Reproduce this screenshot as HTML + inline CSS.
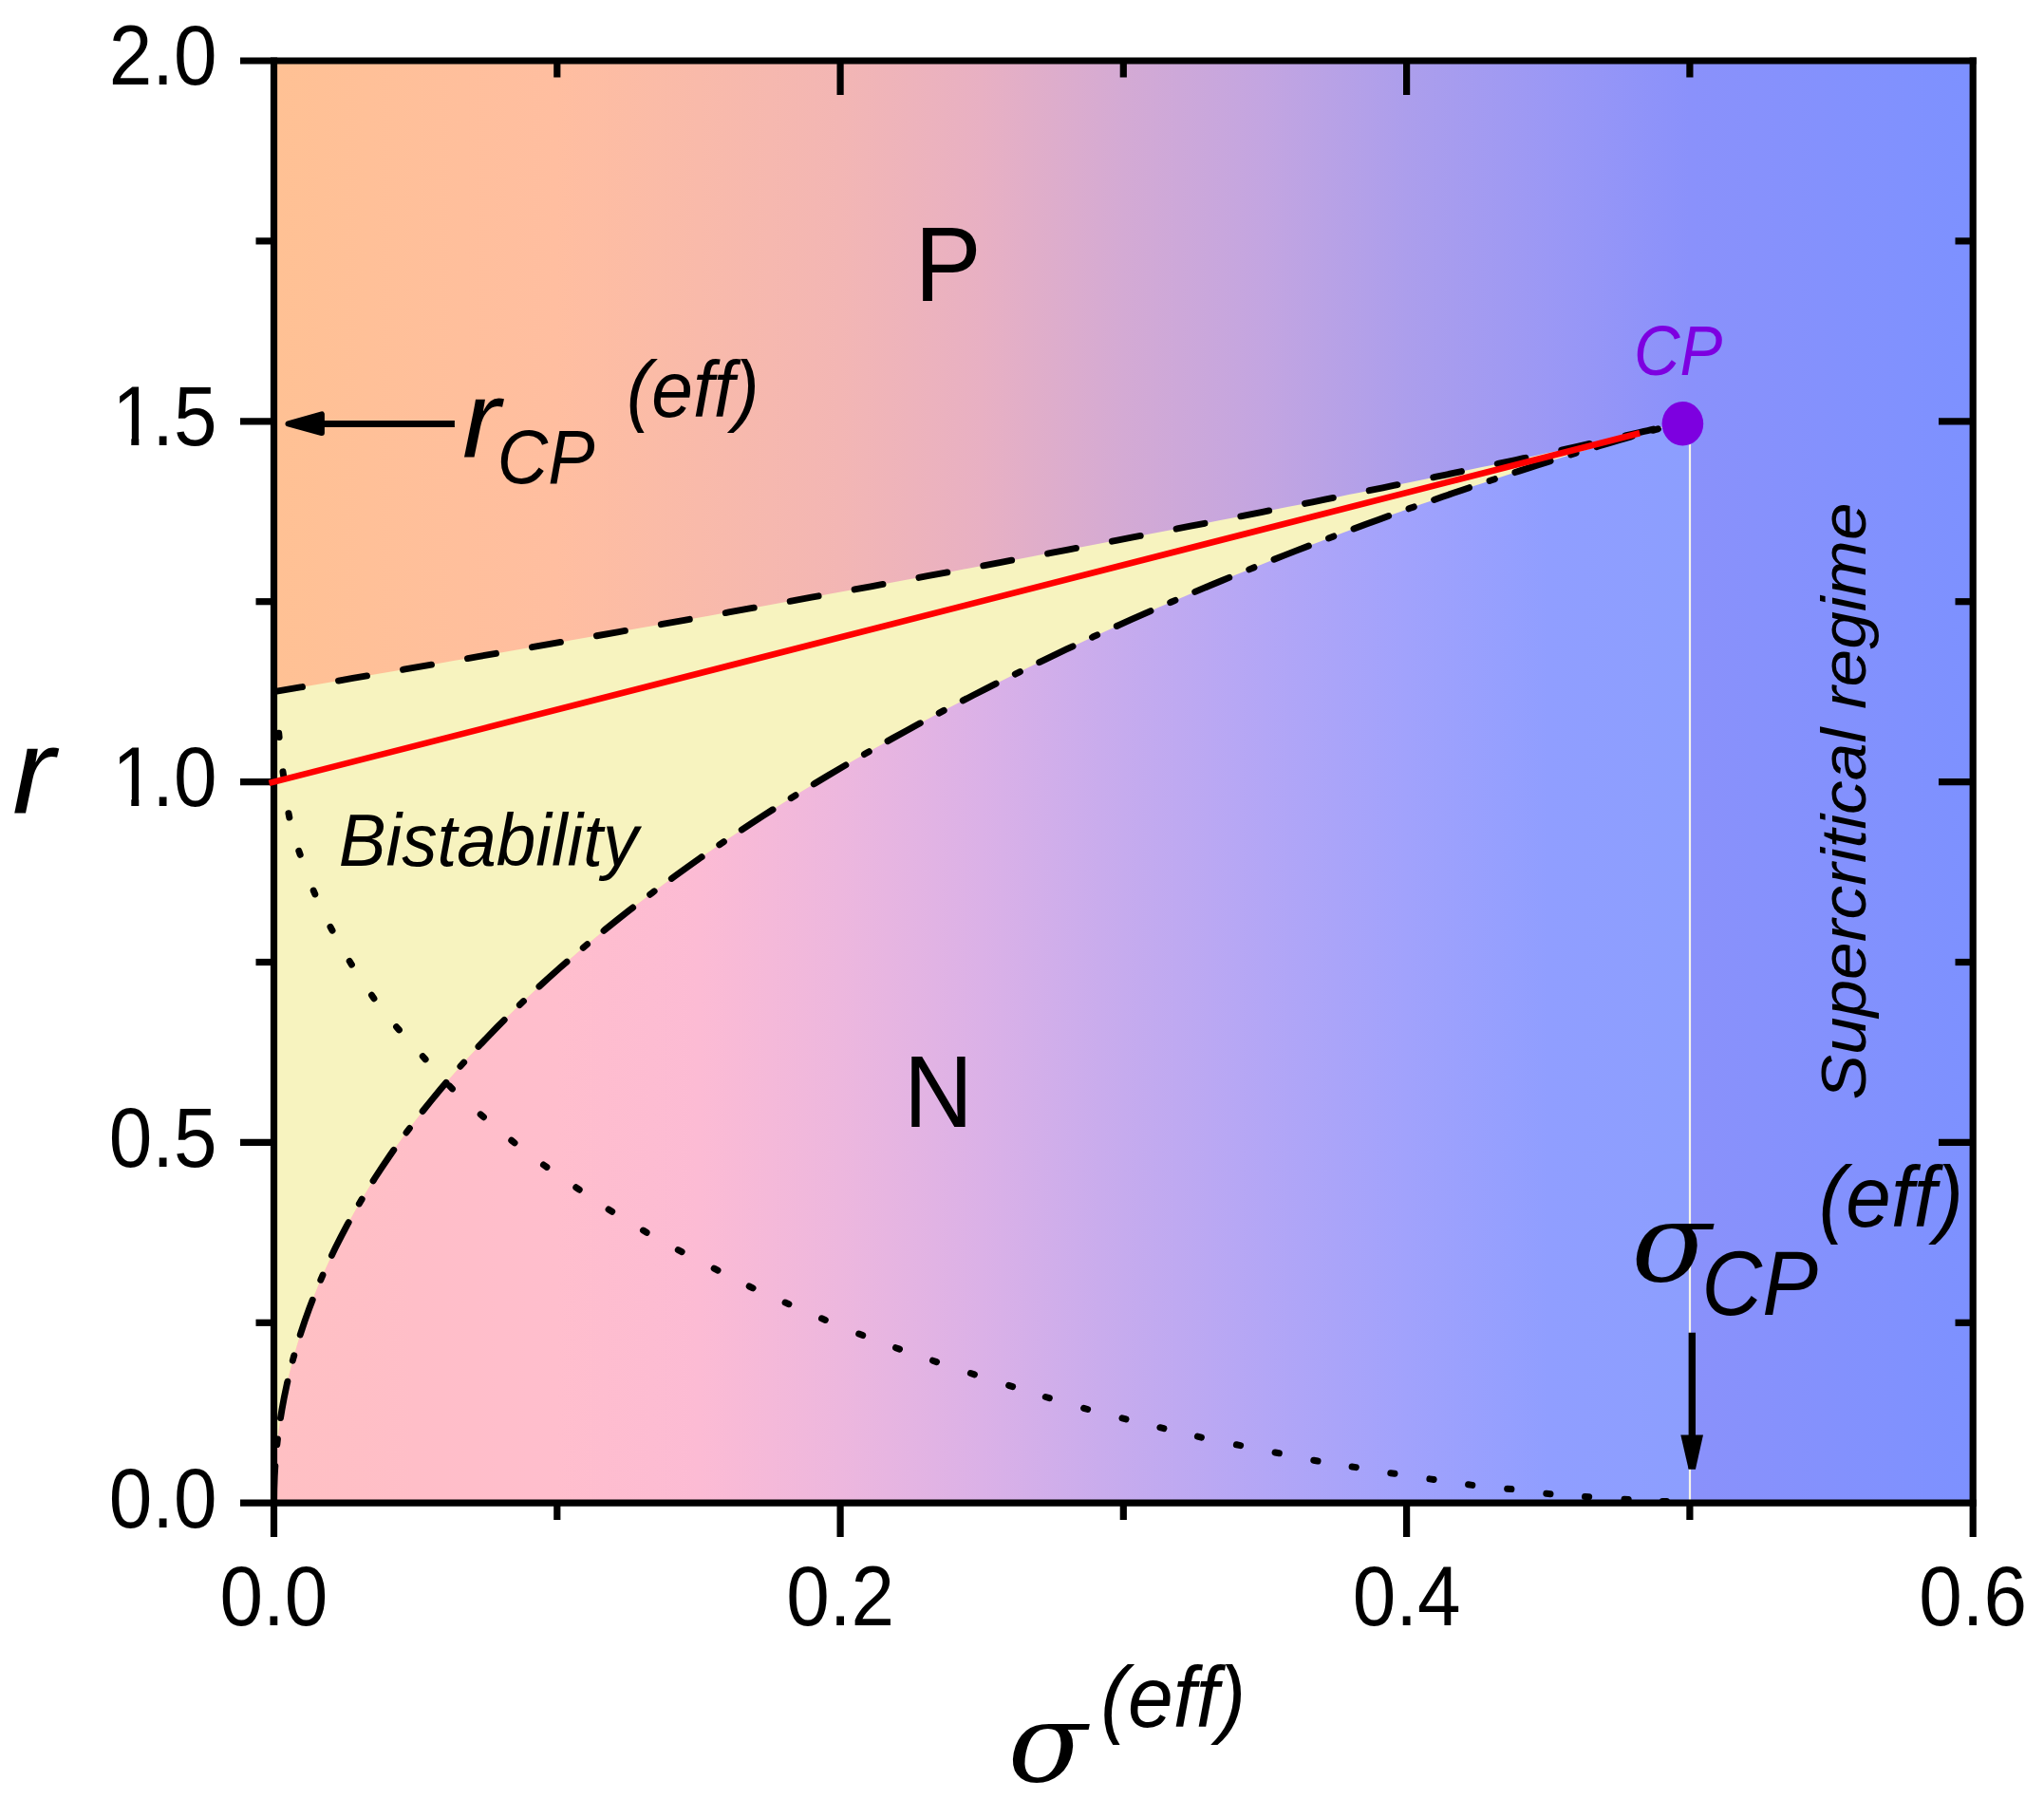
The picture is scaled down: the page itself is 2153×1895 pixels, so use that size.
<!DOCTYPE html><html><head><meta charset="utf-8"><title>Phase diagram</title><style>html,body{margin:0;padding:0;background:#fff}svg{display:block}text{font-family:"Liberation Sans",sans-serif;fill:#000}.it{font-style:italic}.gr{font-family:"DejaVu Serif","Liberation Serif",serif;font-style:italic}</style></head><body>
<svg width="2153" height="1895" viewBox="0 0 2153 1895">
<defs><linearGradient id="gp" gradientUnits="userSpaceOnUse" x1="288.5" y1="0" x2="2078.2" y2="0"><stop offset="0.0000" stop-color="rgb(255,193,148)"/><stop offset="0.1667" stop-color="rgb(255,190,160)"/><stop offset="0.3333" stop-color="rgb(243,182,180)"/><stop offset="0.4167" stop-color="rgb(232,176,195)"/><stop offset="0.5000" stop-color="rgb(212,170,212)"/><stop offset="0.5833" stop-color="rgb(195,165,225)"/><stop offset="0.6667" stop-color="rgb(172,158,236)"/><stop offset="0.7500" stop-color="rgb(155,152,245)"/><stop offset="0.8333" stop-color="rgb(138,145,251)"/><stop offset="1.0000" stop-color="rgb(125,145,255)"/></linearGradient>
<linearGradient id="gn" gradientUnits="userSpaceOnUse" x1="288.5" y1="0" x2="1779.9" y2="0"><stop offset="0.0000" stop-color="rgb(255,192,195)"/><stop offset="0.1000" stop-color="rgb(255,190,200)"/><stop offset="0.2000" stop-color="rgb(255,190,205)"/><stop offset="0.3000" stop-color="rgb(252,187,212)"/><stop offset="0.4000" stop-color="rgb(237,183,222)"/><stop offset="0.5000" stop-color="rgb(219,177,231)"/><stop offset="0.6000" stop-color="rgb(198,171,238)"/><stop offset="0.7000" stop-color="rgb(179,166,246)"/><stop offset="0.8000" stop-color="rgb(161,162,252)"/><stop offset="0.9000" stop-color="rgb(144,158,255)"/><stop offset="1.0000" stop-color="rgb(140,158,254)"/></linearGradient></defs>
<rect width="2153" height="1895" fill="#fff"/>
<rect x="288.5" y="64.0" width="1789.7" height="1519.2" fill="url(#gp)"/>
<path d="M288.50 1583.20 L288.68 1568.91 L289.20 1554.72 L290.07 1540.61 L291.28 1526.59 L292.82 1512.67 L294.69 1498.83 L296.90 1485.08 L299.42 1471.43 L302.26 1457.86 L305.41 1444.39 L308.87 1431.00 L312.64 1417.71 L316.71 1404.50 L321.07 1391.38 L325.72 1378.36 L330.66 1365.42 L335.88 1352.58 L341.38 1339.83 L347.15 1327.16 L353.19 1314.59 L359.49 1302.10 L366.06 1289.71 L372.87 1277.40 L379.95 1265.19 L387.26 1253.07 L394.82 1241.03 L402.62 1229.09 L410.65 1217.24 L418.90 1205.47 L427.39 1193.80 L436.09 1182.22 L445.01 1170.72 L454.13 1159.32 L463.47 1148.01 L473.01 1136.79 L482.74 1125.66 L492.67 1114.61 L502.79 1103.66 L513.09 1092.80 L523.57 1082.03 L534.22 1071.35 L545.05 1060.76 L556.04 1050.25 L567.20 1039.84 L578.51 1029.52 L589.98 1019.29 L601.59 1009.15 L613.35 999.10 L625.25 989.14 L637.29 979.27 L649.45 969.49 L661.75 959.80 L674.16 950.20 L686.69 940.69 L699.34 931.27 L712.09 921.94 L724.95 912.70 L737.91 903.55 L750.96 894.49 L764.11 885.53 L777.34 876.65 L790.66 867.86 L804.05 859.16 L817.51 850.55 L831.05 842.03 L844.64 833.61 L858.30 825.27 L872.02 817.02 L885.78 808.86 L899.59 800.79 L913.44 792.82 L927.34 784.93 L941.26 777.13 L955.21 769.43 L969.19 761.81 L983.19 754.28 L997.20 746.85 L1011.23 739.50 L1025.26 732.24 L1039.29 725.08 L1053.32 718.00 L1067.35 711.02 L1081.36 704.12 L1095.36 697.32 L1109.34 690.60 L1123.29 683.97 L1137.21 677.44 L1151.11 670.99 L1164.96 664.64 L1178.77 658.38 L1192.53 652.20 L1206.25 646.12 L1219.91 640.12 L1233.50 634.22 L1247.04 628.40 L1260.50 622.68 L1273.89 617.05 L1287.21 611.50 L1300.44 606.05 L1313.59 600.69 L1326.64 595.41 L1339.60 590.23 L1352.46 585.14 L1365.21 580.13 L1377.86 575.22 L1390.39 570.40 L1402.80 565.67 L1415.10 561.03 L1427.26 556.47 L1439.30 552.01 L1451.20 547.64 L1462.96 543.36 L1474.57 539.17 L1486.04 535.07 L1497.35 531.05 L1508.51 527.13 L1519.50 523.30 L1530.33 519.56 L1540.98 515.91 L1551.46 512.35 L1561.77 508.88 L1571.88 505.50 L1581.81 502.21 L1591.54 499.01 L1601.08 495.90 L1610.42 492.88 L1619.54 489.95 L1628.46 487.11 L1637.16 484.36 L1645.65 481.70 L1653.90 479.13 L1661.93 476.66 L1669.73 474.27 L1677.29 471.97 L1684.61 469.76 L1691.68 467.64 L1698.49 465.61 L1705.06 463.68 L1711.36 461.83 L1717.40 460.07 L1723.17 458.40 L1728.67 456.83 L1733.89 455.34 L1738.83 453.94 L1743.48 452.63 L1747.84 451.42 L1751.91 450.29 L1755.68 449.25 L1759.14 448.31 L1762.29 447.45 L1765.13 446.68 L1767.65 446.01 L1769.86 445.42 L1771.73 444.93 L1773.27 444.52 L1774.48 444.21 L1775.35 443.98 L1775.87 443.85 L1776.05 443.80 L1779.92 443.80 L1779.92 1583.20 Z" fill="url(#gn)"/>
<path d="M288.50 728.65 L316.47 723.88 L344.12 719.16 L371.47 714.47 L398.50 709.82 L425.22 705.22 L451.63 700.65 L477.74 696.12 L503.54 691.64 L529.03 687.19 L554.22 682.79 L579.11 678.42 L603.70 674.10 L627.99 669.81 L651.99 665.57 L675.68 661.36 L699.08 657.20 L722.19 653.08 L745.00 648.99 L767.52 644.95 L789.76 640.95 L811.70 636.99 L833.36 633.06 L854.73 629.18 L875.81 625.34 L896.62 621.54 L917.14 617.78 L937.38 614.05 L957.34 610.37 L977.02 606.73 L996.43 603.13 L1015.56 599.57 L1034.41 596.05 L1053.00 592.57 L1071.31 589.13 L1089.35 585.73 L1107.12 582.37 L1124.63 579.05 L1141.87 575.78 L1158.84 572.54 L1175.55 569.34 L1192.00 566.18 L1208.19 563.06 L1224.12 559.98 L1239.79 556.95 L1255.20 553.95 L1270.36 550.99 L1285.26 548.08 L1299.91 545.20 L1314.31 542.36 L1328.46 539.57 L1342.36 536.81 L1356.01 534.10 L1369.42 531.42 L1382.58 528.79 L1395.50 526.19 L1408.17 523.64 L1420.61 521.12 L1432.80 518.65 L1444.76 516.21 L1456.48 513.82 L1467.96 511.47 L1479.21 509.15 L1490.23 506.88 L1501.01 504.65 L1511.57 502.46 L1521.89 500.30 L1531.99 498.19 L1541.86 496.12 L1551.50 494.09 L1560.93 492.10 L1570.13 490.15 L1579.10 488.23 L1587.86 486.36 L1596.40 484.53 L1604.73 482.74 L1612.83 480.99 L1620.72 479.28 L1628.40 477.61 L1635.87 475.98 L1643.13 474.40 L1650.18 472.85 L1657.02 471.34 L1663.65 469.87 L1670.08 468.44 L1676.30 467.05 L1682.32 465.71 L1688.14 464.40 L1693.76 463.13 L1699.19 461.90 L1704.41 460.72 L1709.44 459.57 L1714.27 458.46 L1718.91 457.40 L1723.36 456.37 L1727.62 455.39 L1731.69 454.44 L1735.57 453.54 L1739.26 452.67 L1742.77 451.85 L1746.10 451.06 L1749.24 450.32 L1752.20 449.61 L1754.98 448.95 L1757.58 448.33 L1760.00 447.74 L1762.25 447.20 L1764.32 446.70 L1766.22 446.23 L1767.95 445.81 L1769.51 445.43 L1770.89 445.09 L1772.11 444.79 L1773.17 444.52 L1774.05 444.30 L1774.78 444.12 L1775.34 443.98 L1775.73 443.88 L1775.97 443.82 L1776.05 443.80 L1776.05 443.80 L1775.87 443.85 L1775.35 443.98 L1774.48 444.21 L1773.27 444.52 L1771.73 444.93 L1769.86 445.42 L1767.65 446.01 L1765.13 446.68 L1762.29 447.45 L1759.14 448.31 L1755.68 449.25 L1751.91 450.29 L1747.84 451.42 L1743.48 452.63 L1738.83 453.94 L1733.89 455.34 L1728.67 456.83 L1723.17 458.40 L1717.40 460.07 L1711.36 461.83 L1705.06 463.68 L1698.49 465.61 L1691.68 467.64 L1684.61 469.76 L1677.29 471.97 L1669.73 474.27 L1661.93 476.66 L1653.90 479.13 L1645.65 481.70 L1637.16 484.36 L1628.46 487.11 L1619.54 489.95 L1610.42 492.88 L1601.08 495.90 L1591.54 499.01 L1581.81 502.21 L1571.88 505.50 L1561.77 508.88 L1551.46 512.35 L1540.98 515.91 L1530.33 519.56 L1519.50 523.30 L1508.51 527.13 L1497.35 531.05 L1486.04 535.07 L1474.57 539.17 L1462.96 543.36 L1451.20 547.64 L1439.30 552.01 L1427.26 556.47 L1415.10 561.03 L1402.80 565.67 L1390.39 570.40 L1377.86 575.22 L1365.21 580.13 L1352.46 585.14 L1339.60 590.23 L1326.64 595.41 L1313.59 600.69 L1300.44 606.05 L1287.21 611.50 L1273.89 617.05 L1260.50 622.68 L1247.04 628.40 L1233.50 634.22 L1219.91 640.12 L1206.25 646.12 L1192.53 652.20 L1178.77 658.38 L1164.96 664.64 L1151.11 670.99 L1137.21 677.44 L1123.29 683.97 L1109.34 690.60 L1095.36 697.32 L1081.36 704.12 L1067.35 711.02 L1053.32 718.00 L1039.29 725.08 L1025.26 732.24 L1011.23 739.50 L997.20 746.85 L983.19 754.28 L969.19 761.81 L955.21 769.43 L941.26 777.13 L927.34 784.93 L913.44 792.82 L899.59 800.79 L885.78 808.86 L872.02 817.02 L858.30 825.27 L844.64 833.61 L831.05 842.03 L817.51 850.55 L804.05 859.16 L790.66 867.86 L777.34 876.65 L764.11 885.53 L750.96 894.49 L737.91 903.55 L724.95 912.70 L712.09 921.94 L699.34 931.27 L686.69 940.69 L674.16 950.20 L661.75 959.80 L649.45 969.49 L637.29 979.27 L625.25 989.14 L613.35 999.10 L601.59 1009.15 L589.98 1019.29 L578.51 1029.52 L567.20 1039.84 L556.04 1050.25 L545.05 1060.76 L534.22 1071.35 L523.57 1082.03 L513.09 1092.80 L502.79 1103.66 L492.67 1114.61 L482.74 1125.66 L473.01 1136.79 L463.47 1148.01 L454.13 1159.32 L445.01 1170.72 L436.09 1182.22 L427.39 1193.80 L418.90 1205.47 L410.65 1217.24 L402.62 1229.09 L394.82 1241.03 L387.26 1253.07 L379.95 1265.19 L372.87 1277.40 L366.06 1289.71 L359.49 1302.10 L353.19 1314.59 L347.15 1327.16 L341.38 1339.83 L335.88 1352.58 L330.66 1365.42 L325.72 1378.36 L321.07 1391.38 L316.71 1404.50 L312.64 1417.71 L308.87 1431.00 L305.41 1444.39 L302.26 1457.86 L299.42 1471.43 L296.90 1485.08 L294.69 1498.83 L292.82 1512.67 L291.28 1526.59 L290.07 1540.61 L289.20 1554.72 L288.68 1568.91 L288.50 1583.20 Z" fill="#f7f3bf"/>
<line x1="1780" y1="443.8" x2="1780" y2="1583.2" stroke="#f6f4ea" stroke-width="2.2"/>
<g fill="none" stroke="#000" stroke-linecap="round" stroke-linejoin="round">
<path d="M293.7 772.3 L294.1 776.5 M298.0 812.9 L298.6 817.1 M304.0 856.8 L304.8 861.0 M314.8 896.3 L316.2 900.3 M330.2 938.1 L331.8 941.9 M348.0 976.4 L350.0 980.2 M368.2 1012.5 L370.4 1016.1 M391.5 1048.3 L393.9 1051.7 M417.6 1081.7 L420.4 1084.9 M445.3 1112.7 L448.1 1115.9 M473.5 1143.9 L476.4 1146.9 M506.2 1173.9 L509.4 1176.7 M538.8 1201.3 L542.0 1203.9 M572.5 1227.0 L575.9 1229.4 M606.8 1250.8 L610.2 1253.2 M641.1 1274.0 L644.7 1276.2 M677.5 1296.1 L681.1 1298.3 M714.3 1316.7 L718.1 1318.7 M752.2 1336.1 L756.0 1338.1 M789.2 1355.0 L793.0 1356.8 M827.1 1372.1 L830.9 1373.7 M865.5 1388.8 L869.3 1390.4 M904.7 1405.0 L908.7 1406.6 M943.5 1419.7 L947.5 1421.1 M982.5 1433.2 L986.5 1434.6 M1022.4 1446.5 L1026.4 1447.9 M1062.6 1459.4 L1066.6 1460.6 M1101.3 1471.5 L1105.3 1472.7 M1141.6 1483.3 L1145.6 1484.5 M1182.0 1493.9 L1186.0 1494.9 M1221.9 1503.7 L1225.9 1504.7 M1261.4 1513.1 L1265.4 1514.1 M1302.4 1521.8 L1306.6 1522.6 M1343.1 1530.0 L1347.3 1530.8 M1383.8 1538.2 L1388.0 1539.0 M1424.1 1545.0 L1428.3 1545.6 M1464.8 1551.7 L1469.0 1552.3 M1505.9 1557.9 L1510.1 1558.5 M1546.6 1563.8 L1550.8 1564.4 M1587.7 1568.2 L1591.9 1568.6 M1628.8 1573.3 L1633.0 1573.7 M1669.5 1576.5 L1673.7 1576.7 M1711.0 1579.2 L1715.2 1579.4 M1751.3 1581.4 L1755.5 1581.6" stroke-width="7"/>
<path d="M288.50 728.65 L316.47 723.88 L344.12 719.16 L371.47 714.47 L398.50 709.82 L425.22 705.22 L451.63 700.65 L477.74 696.12 L503.54 691.64 L529.03 687.19 L554.22 682.79 L579.11 678.42 L603.70 674.10 L627.99 669.81 L651.99 665.57 L675.68 661.36 L699.08 657.20 L722.19 653.08 L745.00 648.99 L767.52 644.95 L789.76 640.95 L811.70 636.99 L833.36 633.06 L854.73 629.18 L875.81 625.34 L896.62 621.54 L917.14 617.78 L937.38 614.05 L957.34 610.37 L977.02 606.73 L996.43 603.13 L1015.56 599.57 L1034.41 596.05 L1053.00 592.57 L1071.31 589.13 L1089.35 585.73 L1107.12 582.37 L1124.63 579.05 L1141.87 575.78 L1158.84 572.54 L1175.55 569.34 L1192.00 566.18 L1208.19 563.06 L1224.12 559.98 L1239.79 556.95 L1255.20 553.95 L1270.36 550.99 L1285.26 548.08 L1299.91 545.20 L1314.31 542.36 L1328.46 539.57 L1342.36 536.81 L1356.01 534.10 L1369.42 531.42 L1382.58 528.79 L1395.50 526.19 L1408.17 523.64 L1420.61 521.12 L1432.80 518.65 L1444.76 516.21 L1456.48 513.82 L1467.96 511.47 L1479.21 509.15 L1490.23 506.88 L1501.01 504.65 L1511.57 502.46 L1521.89 500.30 L1531.99 498.19 L1541.86 496.12 L1551.50 494.09 L1560.93 492.10 L1570.13 490.15 L1579.10 488.23 L1587.86 486.36 L1596.40 484.53 L1604.73 482.74 L1612.83 480.99 L1620.72 479.28 L1628.40 477.61 L1635.87 475.98 L1643.13 474.40 L1650.18 472.85 L1657.02 471.34 L1663.65 469.87 L1670.08 468.44 L1676.30 467.05 L1682.32 465.71 L1688.14 464.40 L1693.76 463.13 L1699.19 461.90 L1704.41 460.72 L1709.44 459.57 L1714.27 458.46 L1718.91 457.40 L1723.36 456.37 L1727.62 455.39 L1731.69 454.44 L1735.57 453.54 L1739.26 452.67 L1742.77 451.85 L1746.10 451.06 L1749.24 450.32 L1752.20 449.61 L1754.98 448.95 L1757.58 448.33 L1760.00 447.74 L1762.25 447.20 L1764.32 446.70 L1766.22 446.23 L1767.95 445.81 L1769.51 445.43 L1770.89 445.09 L1772.11 444.79 L1773.17 444.52 L1774.05 444.30 L1774.78 444.12 L1775.34 443.98 L1775.73 443.88 L1775.97 443.82 L1776.05 443.80" stroke-width="6.9" stroke-dasharray="30.4 38.6"/>
<path d="M288.50 1583.20 L288.68 1568.91 L289.20 1554.72 L290.07 1540.61 L291.28 1526.59 L292.82 1512.67 L294.69 1498.83 L296.90 1485.08 L299.42 1471.43 L302.26 1457.86 L305.41 1444.39 L308.87 1431.00 L312.64 1417.71 L316.71 1404.50 L321.07 1391.38 L325.72 1378.36 L330.66 1365.42 L335.88 1352.58 L341.38 1339.83 L347.15 1327.16 L353.19 1314.59 L359.49 1302.10 L366.06 1289.71 L372.87 1277.40 L379.95 1265.19 L387.26 1253.07 L394.82 1241.03 L402.62 1229.09 L410.65 1217.24 L418.90 1205.47 L427.39 1193.80 L436.09 1182.22 L445.01 1170.72 L454.13 1159.32 L463.47 1148.01 L473.01 1136.79 L482.74 1125.66 L492.67 1114.61 L502.79 1103.66 L513.09 1092.80 L523.57 1082.03 L534.22 1071.35 L545.05 1060.76 L556.04 1050.25 L567.20 1039.84 L578.51 1029.52 L589.98 1019.29 L601.59 1009.15 L613.35 999.10 L625.25 989.14 L637.29 979.27 L649.45 969.49 L661.75 959.80 L674.16 950.20 L686.69 940.69 L699.34 931.27 L712.09 921.94 L724.95 912.70 L737.91 903.55 L750.96 894.49 L764.11 885.53 L777.34 876.65 L790.66 867.86 L804.05 859.16 L817.51 850.55 L831.05 842.03 L844.64 833.61 L858.30 825.27 L872.02 817.02 L885.78 808.86 L899.59 800.79 L913.44 792.82 L927.34 784.93 L941.26 777.13 L955.21 769.43 L969.19 761.81 L983.19 754.28 L997.20 746.85 L1011.23 739.50 L1025.26 732.24 L1039.29 725.08 L1053.32 718.00 L1067.35 711.02 L1081.36 704.12 L1095.36 697.32 L1109.34 690.60 L1123.29 683.97 L1137.21 677.44 L1151.11 670.99 L1164.96 664.64 L1178.77 658.38 L1192.53 652.20 L1206.25 646.12 L1219.91 640.12 L1233.50 634.22 L1247.04 628.40 L1260.50 622.68 L1273.89 617.05 L1287.21 611.50 L1300.44 606.05 L1313.59 600.69 L1326.64 595.41 L1339.60 590.23 L1352.46 585.14 L1365.21 580.13 L1377.86 575.22 L1390.39 570.40 L1402.80 565.67 L1415.10 561.03 L1427.26 556.47 L1439.30 552.01 L1451.20 547.64 L1462.96 543.36 L1474.57 539.17 L1486.04 535.07 L1497.35 531.05 L1508.51 527.13 L1519.50 523.30 L1530.33 519.56 L1540.98 515.91 L1551.46 512.35 L1561.77 508.88 L1571.88 505.50 L1581.81 502.21 L1591.54 499.01 L1601.08 495.90 L1610.42 492.88 L1619.54 489.95 L1628.46 487.11 L1637.16 484.36 L1645.65 481.70 L1653.90 479.13 L1661.93 476.66 L1669.73 474.27 L1677.29 471.97 L1684.61 469.76 L1691.68 467.64 L1698.49 465.61 L1705.06 463.68 L1711.36 461.83 L1717.40 460.07 L1723.17 458.40 L1728.67 456.83 L1733.89 455.34 L1738.83 453.94 L1743.48 452.63 L1747.84 451.42 L1751.91 450.29 L1755.68 449.25 L1759.14 448.31 L1762.29 447.45 L1765.13 446.68 L1767.65 446.01 L1769.86 445.42 L1771.73 444.93 L1773.27 444.52 L1774.48 444.21 L1775.35 443.98 L1775.87 443.85 L1776.05 443.80" stroke-width="6.9" stroke-dasharray="39.1 22.6 5.7 22.6"/>
</g>
<g stroke="#000" stroke-width="7.2" fill="none" stroke-linecap="butt">
<line x1="288.5" y1="60.4" x2="288.5" y2="1619"/>
<line x1="2078.2" y1="60.4" x2="2078.2" y2="1619"/>
<line x1="253" y1="64.0" x2="2081.8" y2="64.0"/>
<line x1="253" y1="1583.2" x2="2081.8" y2="1583.2"/>
<line x1="253" y1="1203.4" x2="288.5" y2="1203.4"/>
<line x1="2042" y1="1203.4" x2="2078.2" y2="1203.4"/>
<line x1="253" y1="823.6" x2="288.5" y2="823.6"/>
<line x1="2042" y1="823.6" x2="2078.2" y2="823.6"/>
<line x1="253" y1="443.8" x2="288.5" y2="443.8"/>
<line x1="2042" y1="443.8" x2="2078.2" y2="443.8"/>
<line x1="269.5" y1="1393.3" x2="288.5" y2="1393.3"/>
<line x1="2059.5" y1="1393.3" x2="2078.2" y2="1393.3"/>
<line x1="269.5" y1="1013.5" x2="288.5" y2="1013.5"/>
<line x1="2059.5" y1="1013.5" x2="2078.2" y2="1013.5"/>
<line x1="269.5" y1="633.7" x2="288.5" y2="633.7"/>
<line x1="2059.5" y1="633.7" x2="2078.2" y2="633.7"/>
<line x1="269.5" y1="253.9" x2="288.5" y2="253.9"/>
<line x1="2059.5" y1="253.9" x2="2078.2" y2="253.9"/>
<line x1="885.1" y1="1583.2" x2="885.1" y2="1619"/>
<line x1="885.1" y1="64.0" x2="885.1" y2="100"/>
<line x1="1481.6" y1="1583.2" x2="1481.6" y2="1619"/>
<line x1="1481.6" y1="64.0" x2="1481.6" y2="100"/>
<line x1="586.8" y1="1583.2" x2="586.8" y2="1601"/>
<line x1="586.8" y1="64.0" x2="586.8" y2="81.5"/>
<line x1="1183.3" y1="1583.2" x2="1183.3" y2="1601"/>
<line x1="1183.3" y1="64.0" x2="1183.3" y2="81.5"/>
<line x1="1779.9" y1="1583.2" x2="1779.9" y2="1601"/>
<line x1="1779.9" y1="64.0" x2="1779.9" y2="81.5"/>
</g>
<line id="red" x1="283.5" y1="824.9" x2="1727.2" y2="456.3" stroke="#ff0000" stroke-width="6.6"/>
<ellipse cx="1772.4" cy="446.3" rx="21.8" ry="23.2" fill="#7d00e0"/>
<line x1="338" y1="446.4" x2="478.9" y2="446.4" stroke="#000" stroke-width="7"/>
<polygon points="303.5,446.3 338.9,436.4 338.9,456" fill="#000" stroke="#000" stroke-width="6" stroke-linejoin="round"/>
<line x1="1782.3" y1="1403.8" x2="1782.3" y2="1547.5" stroke="#000" stroke-width="7.4"/>
<polygon points="1770.3,1511.4 1794,1511.4 1786,1547.5 1778.6,1547.5" fill="#000"/>
<text transform="translate(228.5 1608.5) scale(0.922 1)" font-size="88.8" text-anchor="end">0.0</text>
<text transform="translate(228.5 1228.7) scale(0.922 1)" font-size="88.8" text-anchor="end">0.5</text>
<clipPath id="c10"><rect x="100" y="773.9" width="132" height="67.2"/><rect x="138.3" y="840.4" width="8.0" height="12"/><rect x="160.8" y="840.4" width="72" height="14"/></clipPath>
<g clip-path="url(#c10)"><text transform="translate(228.5 848.9) scale(0.922 1)" font-size="88.8" text-anchor="end" dx="0 -3.80 0">1.0</text></g>
<clipPath id="c15"><rect x="100" y="394.1" width="132" height="67.2"/><rect x="138.3" y="460.6" width="8.0" height="12"/><rect x="160.8" y="460.6" width="72" height="14"/></clipPath>
<g clip-path="url(#c15)"><text transform="translate(228.5 469.1) scale(0.922 1)" font-size="88.8" text-anchor="end" dx="0 -3.80 0">1.5</text></g>
<text transform="translate(228.5 89.3) scale(0.922 1)" font-size="88.8" text-anchor="end">2.0</text>
<text transform="translate(288.5 1712.4) scale(0.922 1)" font-size="88.8" text-anchor="middle">0.0</text>
<text transform="translate(885.1 1712.4) scale(0.922 1)" font-size="88.8" text-anchor="middle">0.2</text>
<text transform="translate(1481.6 1712.4) scale(0.922 1)" font-size="88.8" text-anchor="middle">0.4</text>
<text transform="translate(2078.2 1712.4) scale(0.922 1)" font-size="88.8" text-anchor="middle">0.6</text>
<text id="tr" transform="translate(12.99 856.70) scale(1.0479 1)" font-size="128.15" class="it" >r</text>
<text id="tP" transform="translate(963.48 316.70) scale(0.9529 1)" font-size="110.43" class="" >P</text>
<text id="tN" transform="translate(951.93 1187.10) scale(0.9370 1)" font-size="107.68" class="" >N</text>
<text id="t1r" transform="translate(487.00 481.60) scale(1.0502 1)" font-size="114.26" class="it" >r</text>
<text id="t1cp" transform="translate(523.83 508.70) scale(0.9206 1)" font-size="80.28" class="it" >CP</text>
<text id="t1e" transform="translate(659.96 439.20) scale(0.9444 1)" font-size="83.32" class="it" >(eff)</text>
<text id="tcp" transform="translate(1721.11 394.85) scale(0.8985 1)" font-size="74.65" class="it" style="fill:#7d00e0">CP</text>
<text id="tb" transform="translate(356.76 912.27) scale(0.9609 1)" font-size="77.75" class="it" >Bistability</text>
<text id="ts" transform="translate(1964.81 1158.54) rotate(-90) scale(1.0533 1)" font-size="67.59" class="it">Supercritical regime</text>
<text id="t2s" transform="translate(1718.32 1348.65) scale(1.0643 1)" font-size="116.45" class="gr" >σ</text>
<text id="t2cp" transform="translate(1792.56 1384.74) scale(0.9206 1)" font-size="95.63" class="it" >CP</text>
<text id="t2e" transform="translate(1915.84 1291.86) scale(0.9402 1)" font-size="91.12" class="it" >(eff)</text>
<text id="t3s" transform="translate(1061.54 1875.55) scale(1.0503 1)" font-size="116.64" class="gr" >σ</text>
<text id="t3e" transform="translate(1159.33 1818.52) scale(0.9412 1)" font-size="91.34" class="it" >(eff)</text>
</svg></body></html>
